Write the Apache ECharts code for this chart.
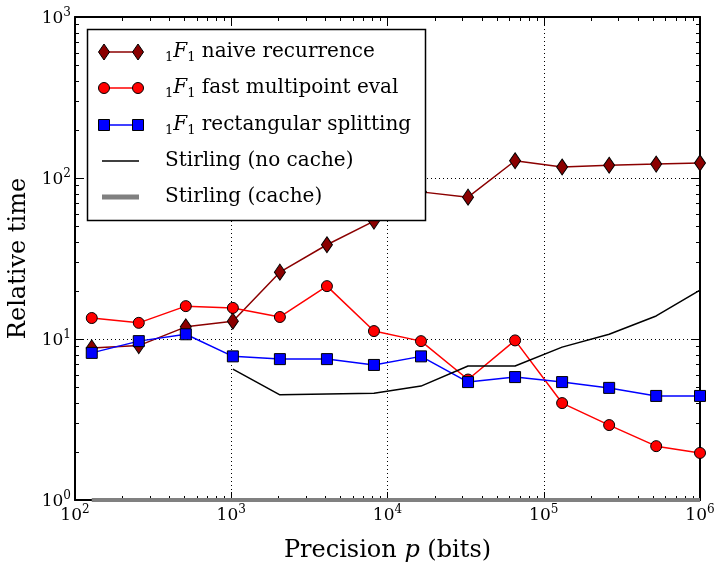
<!DOCTYPE html>
<html>
<head>
<meta charset="utf-8">
<script src="https://cdn.jsdelivr.net/npm/echarts@6/dist/echarts.min.js"></script>
<style>
html, body { margin: 0; padding: 0; background: #fff; }
#chart { width: 717px; height: 563px; }
</style>
</head>
<body>
<div id="chart"></div>
<script>
// precision in bits (x) and relative time (y)
const precision = [128, 256, 512, 1024, 2048, 4096, 8192, 16384, 32768, 65536, 131072, 262144, 524288, 1000000];
const naiveRecurrence = [8.8, 9.1, 11.9, 12.9, 26, 38.5, 54, 82, 76, 128, 117, 120, 122, 124];
const fastMultipoint = [13.5, 12.6, 16.0, 15.6, 13.7, 21.3, 11.2, 9.7, 5.6, 9.8, 4.0, 2.92, 2.16, 1.96];
const rectSplitting = [8.2, 9.7, 10.7, 7.8, 7.5, 7.5, 6.9, 7.8, 5.4, 5.8, 5.4, 4.97, 4.43, 4.43];
const stirlingNoCache = [null, null, null, 6.5, 4.5, 4.55, 4.6, 5.1, 6.8, 6.8, 8.9, 10.7, 13.9, 20.1];
const stirlingCache = [1, 1, 1, 1, 1, 1, 1, 1, 1, 1, 1, 1, 1, 1];

const seriesNames = ['naive recurrence', 'fast multipoint eval', 'rectangular splitting', 'Stirling (no cache)', 'Stirling (cache)'];
const xTickExps = [2, 3, 4, 5, 6];
const yTickExps = [0, 1, 2, 3];
const minorSteps = [2, 3, 4, 5, 6, 7, 8, 9];

const FONT = '"DejaVu Serif", serif';

const pairs = ys => precision.map((x, i) => [x, ys[i]]).filter(p => p[1] != null);

// minor tick positions (axis decoration only)
const minorX = [];
xTickExps.slice(0, -1).forEach(e => minorSteps.forEach(m => minorX.push([m * Math.pow(10, e), 1])));
const minorY = [];
yTickExps.slice(0, -1).forEach(e => minorSteps.forEach(m => minorY.push([100, m * Math.pow(10, e)])));

const tickRich = {
    b: { fontFamily: FONT, fontSize: 17, color: '#000', lineHeight: 20, verticalAlign: 'bottom' },
    s: { fontFamily: FONT, fontSize: 12, color: '#000', verticalAlign: 'top', lineHeight: 12 }
};
const expFormatter = exps => v => {
    const e = Math.round(Math.log10(v));
    return exps.indexOf(e) >= 0 ? '{b|10}{s|' + e + '}' : '';
};

const axisBase = {
    type: 'log',
    logBase: 10,
    axisLine: { show: true, onZero: false, lineStyle: { color: '#000', width: 2 } },
    axisTick: { show: true, inside: true, length: 8, lineStyle: { color: '#000', width: 1 } },
    splitLine: { show: false }
};

const dotted = { show: true, lineStyle: { color: '#000', type: [1, 3], width: 1 } };

const chart = echarts.init(document.getElementById('chart'), null, { renderer: 'canvas' });

const lineSeries = (name, ys, color, symbol, size, width) => ({
    name,
    type: 'line',
    data: pairs(ys),
    xAxisIndex: 0,
    yAxisIndex: 0,
    symbol: symbol || 'none',
    symbolSize: size,
    showSymbol: !!symbol,
    lineStyle: { color, width: width || 1.5 },
    itemStyle: { color, borderColor: '#000', borderWidth: 1 },
    emphasis: { disabled: true },
    animation: false,
    clip: true
});

const minorTickSeries = (data, horizontal) => ({
    type: 'custom',
    silent: true,
    animation: false,
    xAxisIndex: 0,
    yAxisIndex: 0,
    data,
    renderItem: (params, api) => {
        const cs = params.coordSys;
        const p = api.coord([api.value(0), api.value(1)]);
        const st = { stroke: '#000', lineWidth: 1 };
        if (horizontal) {
            const x = Math.round(p[0]) + 0.5;
            return { type: 'group', children: [
                { type: 'line', shape: { x1: x, y1: cs.y + cs.height, x2: x, y2: cs.y + cs.height - 4 }, style: st },
                { type: 'line', shape: { x1: x, y1: cs.y, x2: x, y2: cs.y + 4 }, style: st }
            ] };
        }
        const y = Math.round(p[1]) + 0.5;
        return { type: 'group', children: [
            { type: 'line', shape: { x1: cs.x, y1: y, x2: cs.x + 4, y2: y }, style: st },
            { type: 'line', shape: { x1: cs.x + cs.width, y1: y, x2: cs.x + cs.width - 4, y2: y }, style: st }
        ] };
    }
});

// legend drawn as a framed box like the original figure
const legendRich = {
    sub: { fontFamily: FONT, fontSize: 13, color: '#000', verticalAlign: 'bottom', lineHeight: 17 },
    it: { fontFamily: FONT, fontSize: 20, fontStyle: 'italic', color: '#000', lineHeight: 24 },
    t: { fontFamily: FONT, fontSize: 20, color: '#000', lineHeight: 24 }
};
const legendRows = [52, 88, 125, 161, 197];
const legendLabels = seriesNames.map((n, i) => i < 3 ? '{sub|1}{it|F}{sub|1}{t| ' + n + '}' : '{t|' + n + '}');
const legendElems = [{
    type: 'rect', z: 100,
    shape: { x: 87.5, y: 29.5, width: 338, height: 191 },
    style: { fill: '#fff', stroke: '#000', lineWidth: 1.5 }
}];
const swatch = [
    { color: '#8b0000', sym: 'diamond' },
    { color: '#ff0000', sym: 'circle' },
    { color: '#0000ff', sym: 'rect' },
    { color: '#000000', sym: null, w: 1.5 },
    { color: '#808080', sym: null, w: 5 }
];
swatch.forEach((s, i) => {
    const y = legendRows[i];
    legendElems.push({
        type: 'line', z: 101,
        shape: s.sym ? { x1: 104, y1: y, x2: 138, y2: y } : { x1: 102, y1: y, x2: 139, y2: y },
        style: { stroke: s.color, lineWidth: s.w || 1.5 }
    });
    if (s.sym) {
        [104, 138].forEach(cx => {
            let el;
            if (s.sym === 'diamond') {
                el = { type: 'polygon', shape: { points: [[cx, y - 8], [cx + 5.5, y], [cx, y + 8], [cx - 5.5, y]] } };
            } else if (s.sym === 'circle') {
                el = { type: 'circle', shape: { cx, cy: y, r: 5.5 } };
            } else {
                el = { type: 'rect', shape: { x: cx - 5.5, y: y - 5.5, width: 11, height: 11 } };
            }
            el.z = 102;
            el.style = { fill: s.color, stroke: '#000', lineWidth: 1 };
            legendElems.push(el);
        });
    }
    legendElems.push({
        type: 'text', z: 102,
        x: 165, y: y,
        style: { text: legendLabels[i], rich: legendRich, verticalAlign: 'middle', align: 'left' }
    });
});

const option = {
    backgroundColor: '#fff',
    animation: false,
    grid: { left: 75, right: 17, top: 17, bottom: 63, containLabel: false, outerBoundsMode: 'none' },
    xAxis: [
        Object.assign({}, axisBase, {
            position: 'bottom', min: 100, max: 1000000,
            splitLine: dotted,
            axisLabel: { formatter: expFormatter(xTickExps), rich: tickRich, margin: 4, showMinLabel: true, showMaxLabel: true },
            name: '{r|Precision }{i|p}{r| (bits)}',
            nameLocation: 'middle', nameGap: 39,
            nameTextStyle: { rich: {
                r: { fontFamily: FONT, fontSize: 24, color: '#000' },
                i: { fontFamily: FONT, fontSize: 24, fontStyle: 'italic', color: '#000' }
            } }
        }),
        Object.assign({}, axisBase, { position: 'top', min: 100, max: 1000000, axisLabel: { show: false } })
    ],
    yAxis: [
        Object.assign({}, axisBase, {
            position: 'left', min: 1, max: 1000,
            splitLine: dotted,
            axisLabel: { formatter: expFormatter(yTickExps), rich: tickRich, margin: 4, showMinLabel: true, showMaxLabel: true },
            name: 'Relative time',
            nameLocation: 'middle', nameGap: 44, nameRotate: 90,
            nameTextStyle: { fontFamily: FONT, fontSize: 24, color: '#000' }
        }),
        Object.assign({}, axisBase, { position: 'right', min: 1, max: 1000, axisLabel: { show: false } })
    ],
    series: [
        minorTickSeries(minorX, true),
        minorTickSeries(minorY, false),
        lineSeries(seriesNames[0], naiveRecurrence, '#8b0000', 'diamond', [11, 16]),
        lineSeries(seriesNames[1], fastMultipoint, '#ff0000', 'circle', 11),
        lineSeries(seriesNames[2], rectSplitting, '#0000ff', 'rect', 11),
        lineSeries(seriesNames[3], stirlingNoCache, '#000000', null, 0, 1.5),
        lineSeries(seriesNames[4], stirlingCache, '#808080', null, 0, 4)
    ],
    graphic: { elements: legendElems }
};

chart.setOption(option);
</script>
</body>
</html>
